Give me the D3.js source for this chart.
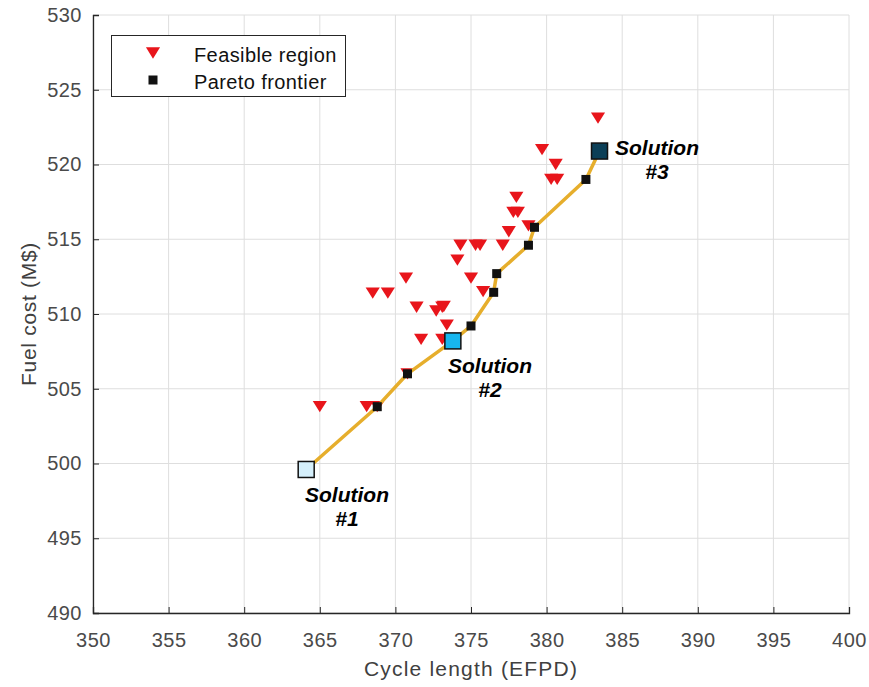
<!DOCTYPE html>
<html>
<head>
<meta charset="utf-8">
<script src="https://cdn.jsdelivr.net/npm/d3@7"></script>
<style>
  body { margin: 0; background: #fff; }
  svg { font-family: "Liberation Sans", Arial, sans-serif; }
</style>
</head>
<body>
<svg id="chart" width="869" height="687"></svg>
<script>
// feasible designs (cycle length EFPD, fuel cost M$)
const feasibleX = [364.1, 365.0, 368.1, 368.8, 368.5, 369.5, 370.7, 370.8, 371.4, 371.7, 372.7, 373.1, 373.4, 373.1, 373.2,
    374.1, 374.3, 375.3, 375.6, 375.0, 375.8, 377.1, 377.5, 377.8, 378.1, 378.0, 378.8, 379.7, 380.6, 380.3, 380.7, 383.4];
const feasibleY = [499.6, 503.8, 503.8, 503.8, 511.4, 511.4, 512.4, 506.0, 510.45, 508.3, 510.2, 510.45, 509.26, 508.3, 510.5,
    513.6, 514.6, 514.6, 514.6, 512.4, 511.5, 514.6, 515.5, 516.8, 516.8, 517.8, 515.9, 521.0, 520.0, 519.0, 519.0, 523.1];

// pareto frontier
const paretoX = [364.1, 368.8, 370.8, 373.8, 375.0, 376.5, 376.7, 378.8, 379.2, 382.6, 383.5];
const paretoY = [499.6, 503.8, 506.0, 508.2, 509.2, 511.45, 512.7, 514.6, 515.8, 519.0, 520.9];

// highlighted solutions
const solNames = ["#1", "#2", "#3"];
const solX = [364.1, 373.8, 383.5];
const solY = [499.6, 508.2, 520.9];
const solColors = ["#d5effb", "#17b6ee", "#0b3f57"];

const xTicks = d3.range(350, 401, 5);
const yTicks = d3.range(490, 531, 5);

const svg = d3.select("#chart");
const margin = { left: 93, right: 20, top: 15, bottom: 74 };
const width = 869, height = 687;

const x = d3.scaleLinear().domain([350, 400]).range([margin.left, width - margin.right]);
const y = d3.scaleLinear().domain([490, 530]).range([height - margin.bottom, margin.top]);

// grid
const grid = svg.append("g").attr("stroke", "#dedede").attr("stroke-width", 1);
grid.selectAll("line.vx").data(xTicks).enter().append("line")
    .attr("x1", d => x(d)).attr("x2", d => x(d))
    .attr("y1", y(490)).attr("y2", y(530));
grid.selectAll("line.hy").data(yTicks).enter().append("line")
    .attr("x1", x(350)).attr("x2", x(400))
    .attr("y1", d => y(d)).attr("y2", d => y(d));

// axes, MATLAB style inward ticks
const xAxis = svg.append("g")
    .attr("transform", `translate(0,${y(490)})`)
    .call(d3.axisBottom(x).tickValues(xTicks).tickSize(-6).tickPadding(20));
const yAxis = svg.append("g")
    .attr("transform", `translate(${x(350)},0)`)
    .call(d3.axisLeft(y).tickValues(yTicks).tickSize(-6).tickPadding(11));
[xAxis, yAxis].forEach(a => {
    a.select(".domain").attr("stroke", "#262626").attr("stroke-width", 1.3);
    a.selectAll(".tick line").attr("stroke", "#262626");
    a.selectAll(".tick text").attr("fill", "#4a4a4a").style("font-size", "20px")
        .style("letter-spacing", "0.5px")
        .style("font-family", "'Liberation Sans', Arial, sans-serif");
});

svg.append("text")
    .attr("x", (x(350) + x(400)) / 2).attr("y", 676)
    .attr("text-anchor", "middle").attr("fill", "#404040")
    .style("font-size", "21px").style("letter-spacing", "1.2px")
    .text("Cycle length (EFPD)");
svg.append("text")
    .attr("transform", `translate(36,${(y(490) + y(530)) / 2}) rotate(-90)`)
    .attr("text-anchor", "middle").attr("fill", "#404040")
    .style("font-size", "21px").style("letter-spacing", "0.7px")
    .text("Fuel cost (M$)");

// feasible triangles (down pointing, a bit flat)
const downTri = {
    draw(ctx, size) {
        const w = Math.sqrt(size), h = w * 0.8;
        ctx.moveTo(-w / 2, -h / 2);
        ctx.lineTo(w / 2, -h / 2);
        ctx.lineTo(0, h / 2);
        ctx.closePath();
    }
};
const tri = d3.symbol().type(downTri).size(200);
svg.append("g").selectAll("path").data(feasibleX).enter().append("path")
    .attr("d", tri)
    .attr("transform", (d, i) => `translate(${x(d)},${y(feasibleY[i])})`)
    .attr("fill", "#e8151b");

// pareto line
const pts = paretoX.map((d, i) => [d, paretoY[i]]);
svg.append("path")
    .datum(pts)
    .attr("d", d3.line().x(d => x(d[0])).y(d => y(d[1])))
    .attr("fill", "none").attr("stroke", "#e6ae2c").attr("stroke-width", 3.5)
    .attr("stroke-linejoin", "round");

// pareto squares
svg.append("g").selectAll("rect").data(pts.slice(1, -1)).enter().append("rect")
    .attr("x", d => x(d[0]) - 4.5).attr("y", d => y(d[1]) - 4.5)
    .attr("width", 9).attr("height", 9).attr("fill", "#111");

// solutions
svg.append("g").selectAll("rect").data(solX).enter().append("rect")
    .attr("x", d => x(d) - 8).attr("y", (d, i) => y(solY[i]) - 8)
    .attr("width", 16).attr("height", 16)
    .attr("fill", (d, i) => solColors[i]).attr("stroke", "#111").attr("stroke-width", 1.5);

const labelPos = [[347, 502], [490, 373], [657, 155]];
labelPos.forEach((p, i) => {
    const t = svg.append("text")
        .attr("text-anchor", "middle").attr("fill", "#000")
        .style("font-size", "21px").style("font-weight", "bold").style("font-style", "italic");
    t.append("tspan").attr("x", p[0]).attr("y", p[1]).text("Solution");
    t.append("tspan").attr("x", p[0]).attr("y", p[1] + 24).text(solNames[i]);
});

// legend
const lg = svg.append("g");
lg.append("rect").attr("x", 111.5).attr("y", 35.5).attr("width", 234).attr("height", 61)
    .attr("fill", "#fff").attr("stroke", "#262626").attr("stroke-width", 1);
lg.append("path").attr("d", tri).attr("transform", "translate(153,53)").attr("fill", "#e8151b");
lg.append("rect").attr("x", 148.5).attr("y", 75.5).attr("width", 9).attr("height", 9).attr("fill", "#111");
lg.append("text").attr("x", 194).attr("y", 62).style("font-size", "20px").style("letter-spacing", "0.4px")
    .attr("fill", "#111").text("Feasible region");
lg.append("text").attr("x", 194).attr("y", 89).style("font-size", "20px").style("letter-spacing", "0.4px")
    .attr("fill", "#111").text("Pareto frontier");
</script>
</body>
</html>
